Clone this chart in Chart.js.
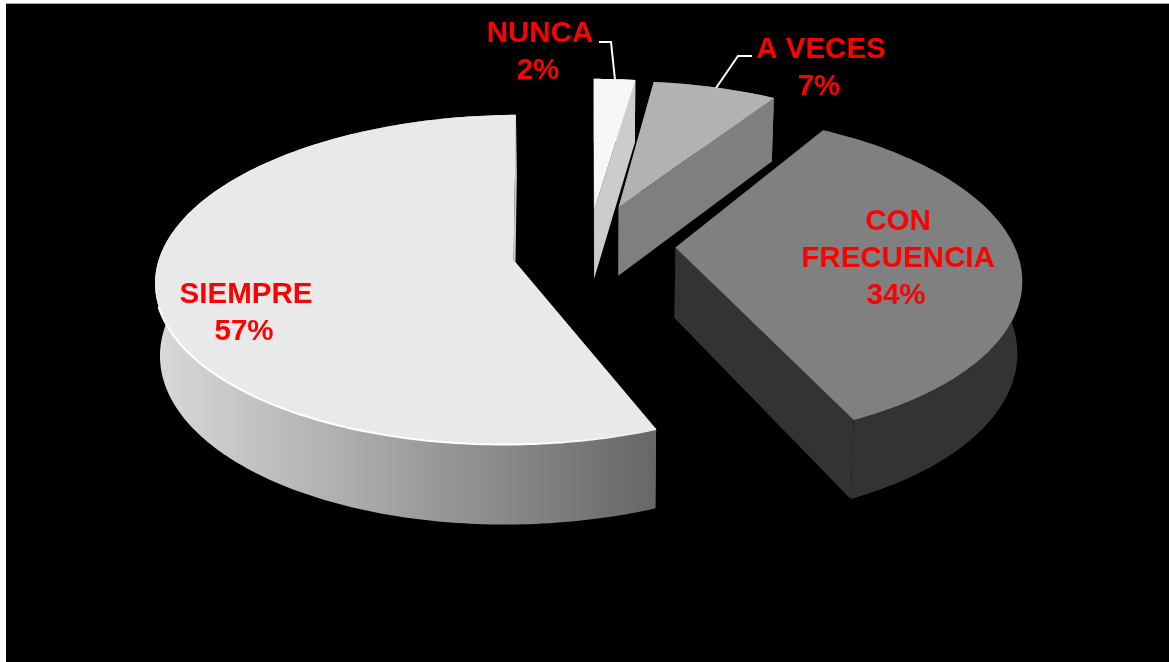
<!DOCTYPE html>
<html>
<head>
<meta charset="utf-8">
<title>Pie</title>
<script src="https://cdn.jsdelivr.net/npm/chart.js@4/dist/chart.umd.min.js"></script>
<style>
  html, body { margin: 0; padding: 0; background: #fff; overflow: hidden; }
  canvas { display: block; }
</style>
</head>
<body>
<canvas id="pie" width="1169" height="662"></canvas>
<script>
const categories = ['SIEMPRE', 'NUNCA', 'A VECES', 'CON FRECUENCIA'];
const values = [57, 2, 7, 34];
const topColors = ['#e9e9e9', '#f7f7f7', '#b2b2b2', '#808080'];
const sideColors = [null, '#cccccc', '#7f7f7f', '#333333'];

// camera for the fake 3d view
const view = { cx: 590, cy: 254, dist: 3300, tilt: 0.453, depth: 71, shrink: 0.00016 };
const explode = [78, 115, 114, 86];
const radiusScale = [0.993, 0.95, 0.95, 0.96];
const zScale = [1.007, 1, 0.96, 1.04];
// the original's perspective is not a true one, these pull each slice onto it
const angleNudge = [[2.7, -0.9], [0, 0.8], [0, -1.1], [-2.9, -1.1]];
const shift = [[0, 0], [-3, 15], [-9, 0], [0, 6]];
const apexShift = [[0, -4], [0, 0], [0, 0], [0, -26]];

// label placement, one line per entry, percent goes last
const labelLines = [['SIEMPRE'], ['NUNCA'], ['A VECES'], ['CON', 'FRECUENCIA']];
const labelSpots = [[246, 303], [540, 42], [821, 58], [898, 230]];
const leaders = [null, [[599, 42], [611, 42], [615, 80]], [[752, 56], [738, 56], [716, 88]], null];

const rad = (d) => (d * Math.PI) / 180;

const project = (x, z, y) => {
  const p = view.dist / (view.dist - z);
  return [view.cx + x * p * (1 - y * view.shrink), view.cy + view.tilt * z * p + y * p];
};

const slicePoints = (arc, i, y) => {
  const mid = (arc.startAngle + arc.endAngle) / 2;
  const ox = Math.cos(mid) * explode[i] + shift[i][0];
  const oz = Math.sin(mid) * explode[i] + shift[i][1];
  const r = arc.outerRadius * radiusScale[i];
  const from = arc.startAngle + rad(angleNudge[i][0]);
  const to = arc.endAngle + rad(angleNudge[i][1]);
  const pts = [];
  const steps = Math.max(8, Math.ceil((to - from) * 60));
  for (let s = 0; s <= steps; s++) {
    const a = from + ((to - from) * s) / steps;
    pts.push(project(ox + Math.cos(a) * r, oz + Math.sin(a) * r * zScale[i], y));
  }
  return { pts, apex: project(ox + apexShift[i][0], oz + apexShift[i][1], y) };
};

const fillPoly = (ctx, pts, color) => {
  ctx.beginPath();
  pts.forEach(([x, y], n) => (n ? ctx.lineTo(x, y) : ctx.moveTo(x, y)));
  ctx.closePath();
  ctx.fillStyle = color;
  ctx.fill();
};

const pie3d = {
  id: 'pie3d',
  beforeDraw(chart) {
    const { ctx } = chart;
    ctx.save();
    ctx.fillStyle = '#000';
    ctx.fillRect(6, 3, 1163, 659);
    ctx.fillStyle = '#a8a8a8';
    ctx.fillRect(6, 3, 1163, 1);
    ctx.restore();
  },
  beforeDatasetsDraw(chart) {
    const { ctx } = chart;
    const arcs = chart.getDatasetMeta(0).data;
    ctx.save();
    arcs.forEach((arc, i) => {
      const top = slicePoints(arc, i, 0);
      const low = slicePoints(arc, i, view.depth);
      let side = sideColors[i];
      if (!side) {
        side = ctx.createLinearGradient(160, 0, 657, 0);
        side.addColorStop(0, '#d8d8d8');
        side.addColorStop(1, '#666666');
      }
      // walls: outer rim strip, then the two cut faces
      fillPoly(ctx, top.pts.concat(low.pts.slice().reverse()), side);
      const last = top.pts.length - 1;
      const cut = i === 0 ? '#c8c8c8' : side;
      fillPoly(ctx, [top.apex, top.pts[last], low.pts[last], low.apex], cut);
      fillPoly(ctx, [top.apex, top.pts[0], low.pts[0], low.apex], i === 0 ? side : cut);
      fillPoly(ctx, [top.apex].concat(top.pts), arc.options.backgroundColor);
      if (i === 0) {
        // highlight along the front edge of the big slice, fades out to the right
        const glow = ctx.createLinearGradient(160, 0, 657, 0);
        glow.addColorStop(0, '#ffffff');
        glow.addColorStop(0.75, '#ffffff');
        glow.addColorStop(1, '#e9e9e9');
        ctx.beginPath();
        const front = top.pts.filter(([x, y]) => y > 306);
        front.forEach(([x, y], n) => (n ? ctx.lineTo(x, y) : ctx.moveTo(x, y)));
        ctx.strokeStyle = glow;
        ctx.lineWidth = 2;
        ctx.stroke();
      }
    });
    ctx.restore();
    return false;
  },
  afterDraw(chart) {
    const { ctx } = chart;
    const total = values.reduce((a, b) => a + b, 0);
    ctx.save();
    ctx.strokeStyle = '#ffffff';
    ctx.lineWidth = 2;
    leaders.forEach((line) => {
      if (!line) return;
      ctx.beginPath();
      line.forEach(([x, y], n) => (n ? ctx.lineTo(x, y) : ctx.moveTo(x, y)));
      ctx.stroke();
    });
    ctx.font = 'bold 29.5px "Liberation Sans"';
    ctx.fillStyle = '#ff0000';
    ctx.textAlign = 'center';
    ctx.textBaseline = 'alphabetic';
    labelLines.forEach((lines, i) => {
      const [x, y] = labelSpots[i];
      lines.forEach((text, n) => ctx.fillText(text, x, y + n * 37));
      const pct = Math.round((values[i] / total) * 100) + '%';
      ctx.fillText(pct, x - 2, y + lines.length * 37);
    });
    ctx.restore();
  },
};

new Chart(document.getElementById('pie'), {
  type: 'pie',
  data: {
    labels: categories,
    datasets: [{ data: values, backgroundColor: topColors, borderWidth: 0 }],
  },
  options: {
    responsive: false,
    animation: false,
    rotation: 154.8,
    radius: 356,
    layout: { padding: 0 },
    plugins: { legend: { display: false }, tooltip: { enabled: false } },
  },
  plugins: [pie3d],
});
</script>
</body>
</html>
